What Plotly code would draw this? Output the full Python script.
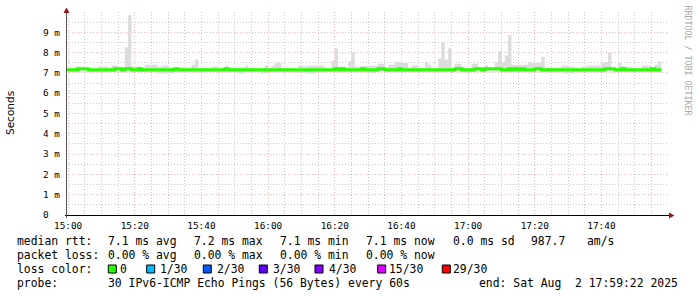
import plotly.graph_objects as go
import pandas as pd

# ---------------- data (ms), one value per minute step ending at 15:00 + i min ----------------
first_step_end = "2025-08-02 15:00:00"
view_start = "2025-08-02 14:59:22"
view_end = "2025-08-02 17:59:58"

smoke_hi = [
    7.22, 7.22, 7.22, 7.32, 7.32, 7.22, 7.22, 7.22, 7.22, 7.22,
    7.32, 7.32, 7.32, 7.25, 7.37, 7.37, 7.27, 7.27, 8.26, 9.85,
    7.32, 7.32, 7.32, 7.22, 7.40, 7.40, 7.40, 7.40, 7.30, 7.37,
    7.37, 7.27, 7.27, 7.22, 7.22, 7.27, 7.27, 7.27, 7.40, 7.65,
    7.22, 7.20, 7.20, 7.20, 7.32, 7.32, 7.22, 7.22, 7.37, 7.27,
    7.27, 7.27, 7.27, 7.27, 7.37, 7.27, 7.27, 7.27, 7.22, 7.22,
    7.37, 7.22, 7.37, 7.49, 7.49, 7.22, 7.22, 7.22, 7.22, 7.22,
    7.37, 7.37, 7.32, 7.37, 7.37, 7.37, 7.37, 7.37, 7.22, 7.22,
    7.60, 8.20, 7.32, 7.32, 7.22, 7.57, 8.00, 7.32, 7.32, 7.35,
    7.35, 7.35, 7.35, 7.35, 7.45, 7.45, 7.22, 7.40, 7.40, 7.53,
    7.53, 7.49, 7.49, 7.22, 7.37, 7.37, 7.22, 7.22, 7.53, 7.40,
    7.22, 7.22, 7.70, 8.50, 7.65, 8.20, 7.22, 7.45, 7.45, 7.32,
    7.22, 7.22, 7.45, 7.45, 7.22, 7.22, 7.37, 7.27, 7.27, 7.53,
    8.05, 7.53, 7.87, 8.87, 7.40, 7.40, 7.40, 7.40, 7.40, 7.53,
    7.50, 7.50, 7.50, 7.80, 7.27, 7.27, 7.27, 7.27, 7.27, 7.37,
    7.37, 7.32, 7.32, 7.22, 7.22, 7.32, 7.32, 7.37, 7.37, 7.37,
    7.37, 7.53, 7.53, 8.00, 7.22, 7.22, 7.50, 7.32, 7.32, 7.32,
    7.22, 7.22, 7.22, 7.37, 7.37, 7.37, 7.27, 7.40, 7.57,
]

smoke_lo = [
    7.06, 7.06, 7.06, 7.06, 7.06, 7.06, 7.06, 7.06, 7.06, 7.06,
    7.06, 7.06, 7.06, 7.06, 7.06, 7.06, 7.06, 7.06, 7.06, 7.06,
    7.06, 7.06, 7.06, 7.06, 7.06, 7.06, 7.06, 7.06, 6.97, 6.97,
    6.97, 6.97, 6.97, 7.06, 7.06, 7.06, 7.06, 7.06, 7.06, 7.06,
    7.06, 7.06, 7.06, 7.06, 7.06, 7.06, 7.06, 7.06, 7.06, 7.06,
    7.06, 7.06, 6.97, 6.97, 7.06, 7.06, 7.06, 7.06, 7.06, 6.97,
    6.97, 7.06, 7.06, 7.06, 7.06, 7.06, 7.06, 7.06, 7.06, 7.06,
    7.06, 7.06, 6.97, 6.97, 6.97, 7.06, 7.06, 7.06, 7.06, 7.06,
    7.06, 7.06, 7.06, 7.06, 7.06, 7.06, 7.06, 7.06, 7.06, 7.06,
    7.06, 6.97, 6.97, 7.06, 7.06, 7.06, 7.06, 7.06, 7.06, 7.06,
    7.06, 7.06, 7.06, 7.06, 7.06, 7.06, 7.06, 7.06, 7.06, 7.06,
    7.06, 7.06, 7.06, 7.06, 7.06, 7.06, 7.06, 7.06, 7.06, 7.06,
    7.06, 7.06, 7.06, 7.06, 7.06, 7.06, 7.06, 7.06, 7.06, 7.06,
    7.06, 7.06, 7.06, 7.06, 7.06, 7.06, 7.06, 7.06, 7.06, 7.06,
    7.06, 7.06, 7.06, 7.06, 7.06, 7.06, 7.06, 7.06, 7.06, 7.06,
    6.97, 6.97, 6.97, 7.06, 7.06, 7.06, 7.06, 7.06, 7.06, 7.06,
    7.06, 7.06, 7.06, 7.06, 7.06, 7.06, 7.06, 7.06, 7.06, 7.06,
    7.06, 7.06, 7.06, 7.06, 7.06, 7.06, 7.06, 7.06, 7.06,
]

median_rtt = [
    7.15, 7.15, 7.15, 7.15, 7.21, 7.21, 7.21, 7.15, 7.15, 7.15,
    7.15, 7.15, 7.15, 7.15, 7.15, 7.21, 7.21, 7.15, 7.21, 7.21,
    7.15, 7.15, 7.21, 7.15, 7.15, 7.15, 7.15, 7.15, 7.15, 7.15,
    7.15, 7.15, 7.15, 7.21, 7.15, 7.15, 7.15, 7.15, 7.15, 7.15,
    7.15, 7.15, 7.15, 7.15, 7.15, 7.15, 7.15, 7.15, 7.21, 7.15,
    7.15, 7.15, 7.15, 7.15, 7.15, 7.15, 7.15, 7.15, 7.15, 7.15,
    7.15, 7.15, 7.15, 7.15, 7.15, 7.15, 7.15, 7.15, 7.15, 7.15,
    7.15, 7.15, 7.15, 7.15, 7.15, 7.15, 7.15, 7.15, 7.15, 7.15,
    7.15, 7.21, 7.15, 7.21, 7.15, 7.15, 7.15, 7.15, 7.15, 7.21,
    7.15, 7.15, 7.15, 7.15, 7.21, 7.21, 7.15, 7.15, 7.15, 7.15,
    7.21, 7.15, 7.15, 7.15, 7.15, 7.15, 7.15, 7.15, 7.15, 7.15,
    7.15, 7.15, 7.15, 7.15, 7.15, 7.15, 7.15, 7.21, 7.21, 7.15,
    7.15, 7.15, 7.15, 7.21, 7.21, 7.15, 7.21, 7.21, 7.21, 7.21,
    7.21, 7.15, 7.15, 7.21, 7.15, 7.21, 7.15, 7.21, 7.15, 7.15,
    7.15, 7.21, 7.21, 7.15, 7.15, 7.15, 7.15, 7.15, 7.15, 7.15,
    7.15, 7.15, 7.15, 7.15, 7.15, 7.15, 7.15, 7.15, 7.15, 7.15,
    7.15, 7.15, 7.21, 7.21, 7.21, 7.15, 7.15, 7.21, 7.15, 7.15,
    7.15, 7.15, 7.15, 7.15, 7.15, 7.15, 7.21, 7.15, 7.15,
]

y_tick_values = [0, 1, 2, 3, 4, 5, 6, 7, 8, 9]
y_tick_labels = ["0  ", "1 m", "2 m", "3 m", "4 m", "5 m", "6 m", "7 m", "8 m", "9 m"]
y_minor_values = [0.5, 1.5, 2.5, 3.5, 4.5, 5.5, 6.5, 7.5, 8.5, 9.5]

stats_row1 = ["median rtt:", "7.1 ms avg", "7.2 ms max", "7.1 ms min", "7.1 ms now", "0.0 ms sd", "987.7", "am/s"]
stats_row2 = ["packet loss:", "0.00 % avg", "0.00 % max", "0.00 % min", "0.00 % now"]
loss_labels = ["0", "1/30", "2/30", "3/30", "4/30", "15/30", "29/30"]
loss_colors = ["#26ff00", "#00b8ff", "#0059ff", "#5e00ff", "#7e00ff", "#dd00ff", "#ff0000"]
probe_text = ["probe:", "30 IPv6-ICMP Echo Pings (56 Bytes) every 60s", "end: Sat Aug  2 17:59:22 2025"]

# ---------------- layout geometry (pixels) ----------------
W, H = 697, 297
L, R, T, B = 66, 668, 12, 215
PW, PH = R - L, B - T


def xp(px):
    return (px - L) / PW


def yp(py):
    return (B - py) / PH


# step x positions: value i covers [15:00 + (i-1) min, 15:00 + i min]
n = len(median_rtt)
t0 = pd.Timestamp(first_step_end)
step_x = [t0 + pd.Timedelta(minutes=i - 1) for i in range(n)] + [t0 + pd.Timedelta(minutes=n - 1)]
lo_y = smoke_lo + [smoke_lo[-1]]
hi_y = smoke_hi + [smoke_hi[-1]]
med_y = median_rtt + [median_rtt[-1]]

fig = go.Figure()
fig.add_trace(go.Scatter(x=step_x, y=lo_y, mode="lines", line=dict(width=0, shape="hv"),
                         hoverinfo="skip", showlegend=False))
fig.add_trace(go.Scatter(x=step_x, y=hi_y, mode="lines", line=dict(width=0, shape="hv"),
                         fill="tonexty", fillcolor="#dcdcdc", hoverinfo="skip", showlegend=False))
fig.add_trace(go.Scatter(x=step_x, y=med_y, mode="lines", line=dict(width=3, shape="hv", color="#26ff00"),
                         showlegend=False))

MAJOR = "rgba(235,90,90,0.45)"
MINOR = "rgba(130,130,130,0.45)"
DOTS = "1px,2px"
tick_font = dict(family="DejaVu Sans Mono", size=9.4, color="#000000")

fig.update_xaxes(
    type="date", range=[view_start, view_end],
    tickmode="linear", tick0="2025-08-02 15:00:00", dtick=1200000, tickformat="%H:%M",
    showgrid=True, gridcolor=MAJOR, griddash=DOTS, gridwidth=1,
    minor=dict(tick0="2025-08-02 15:00:00", dtick=300000, showgrid=True, gridcolor=MINOR, griddash=DOTS, gridwidth=1),
    zeroline=False, showline=False, ticks="", tickfont=tick_font, fixedrange=True,
    ticklabelstandoff=4,
)
fig.update_yaxes(
    range=[0, 10], tickmode="array", tickvals=y_tick_values,
    ticktext=[t.replace(" ", "\u00a0") for t in y_tick_labels],
    showgrid=True, gridcolor=MAJOR, griddash=DOTS, gridwidth=1,
    minor=dict(tickmode="array", tickvals=y_minor_values, showgrid=True, gridcolor=MINOR, griddash=DOTS, gridwidth=1),
    zeroline=False, showline=False, ticks="", tickfont=tick_font, fixedrange=True,
    ticklabelstandoff=5,
)

shapes = []
# axes
shapes.append(dict(type="line", xref="paper", yref="paper", x0=xp(65), x1=xp(671), y0=yp(215.5), y1=yp(215.5),
                   line=dict(color="#000000", width=1)))
shapes.append(dict(type="line", xref="paper", yref="paper", x0=xp(66.5), x1=xp(66.5), y0=yp(218), y1=yp(12),
                   line=dict(color="#555555", width=1)))
# arrows
shapes.append(dict(type="path", xref="paper", yref="paper",
                   path=f"M {xp(674.5)} {yp(215.5)} L {xp(669)} {yp(212.5)} L {xp(669)} {yp(218.5)} Z",
                   fillcolor="#8b1a1a", line=dict(width=0)))
shapes.append(dict(type="path", xref="paper", yref="paper",
                   path=f"M {xp(66.5)} {yp(7.5)} L {xp(63.5)} {yp(13)} L {xp(69.5)} {yp(13)} Z",
                   fillcolor="#8b1a1a", line=dict(width=0)))

annotations = []
mono = dict(family="DejaVu Sans Mono", size=11.4, color="#000000")


def add_text(px, py, text, font=mono, **kw):
    annotations.append(dict(x=xp(px), y=yp(py), xref="paper", yref="paper", text=text.replace(" ", "\u00a0"),
                            showarrow=False, xanchor=kw.get("xanchor", "left"), yanchor="middle", font=font,
                            textangle=kw.get("textangle", 0), borderpad=0))


row1_x = [16, 107.3, 193.3, 279.3, 365, 451.7, 530, 586]
for x, s in zip(row1_x, stats_row1):
    add_text(x, 241, s)
row2_x = [16, 107.3, 193.3, 279.3, 365]
for x, s in zip(row2_x, stats_row2):
    add_text(x, 255, s)
add_text(16, 269, "loss color:")
sq_x = [108.3, 146.7, 203.3, 259.3, 315, 377.7, 442.3]
lab_x = [119, 159.3, 216, 271.7, 327.7, 387.7, 452.3]
for sx, lx, lab, col in zip(sq_x, lab_x, loss_labels, loss_colors):
    shapes.append(dict(type="rect", xref="paper", yref="paper", x0=xp(sx), x1=xp(sx + 8), y0=yp(273), y1=yp(265),
                       fillcolor=col, line=dict(color="#000000", width=1)))
    add_text(lx, 269, lab)
for x, s in zip([16, 107.3, 478.3], probe_text):
    add_text(x, 283, s)

add_text(10, 113, "Seconds", font=dict(family="DejaVu Sans", size=10.5, color="#000000"),
         xanchor="center", textangle=-90)
add_text(687.5, 60, "RRDTOOL / TOBI OETIKER", font=dict(family="DejaVu Sans Mono", size=8.3, color="#a8a8a8"),
         xanchor="center", textangle=90)

fig.update_layout(
    width=W, height=H, margin=dict(l=L, r=W - R, t=T, b=H - B),
    paper_bgcolor="#ffffff", plot_bgcolor="#ffffff",
    shapes=shapes, annotations=annotations, showlegend=False,
)

fig.write_html("out.html")
